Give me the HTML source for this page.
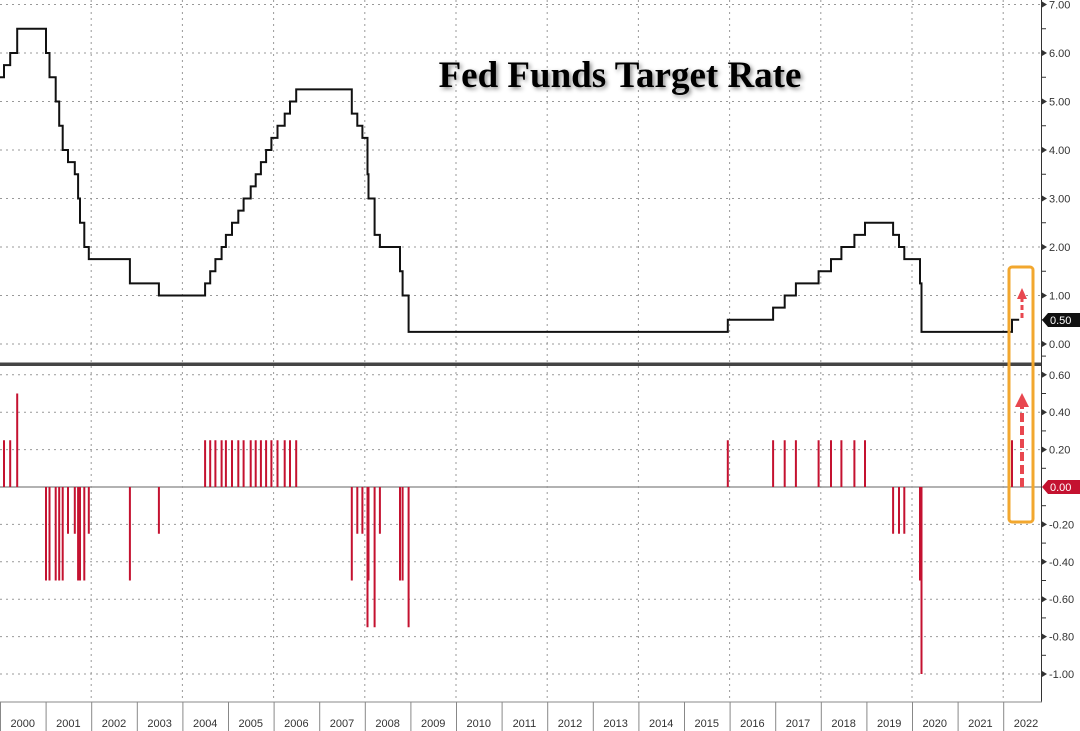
<!DOCTYPE html>
<html><head><meta charset="utf-8"><style>
html,body{margin:0;padding:0;background:#fff;}
svg{display:block;font-family:"Liberation Sans",sans-serif;}
</style></head><body>
<svg id="c" width="1080" height="731" viewBox="0 0 1080 731" xmlns="http://www.w3.org/2000/svg">
<rect width="1080" height="731" fill="#fff"/>
<g id="grid"></g>
<g id="bars"></g>
<path id="line" fill="none" stroke="#111" stroke-width="2"/>
<rect x="0" y="362.5" width="1042" height="3.5" fill="#444"/>
<line x1="1041.5" y1="0" x2="1041.5" y2="702" stroke="#333" stroke-width="1"/>
<line x1="0" y1="702" x2="1042" y2="702" stroke="#888" stroke-width="1"/>
<g id="axis" font-size="11" fill="#333"></g>
<text x="620" y="87" text-anchor="middle" font-family="'Liberation Serif',serif" font-weight="bold" font-size="37" fill="#000" style="filter:drop-shadow(2px 2px 2px rgba(0,0,0,0.45))">Fed Funds Target Rate</text>
<rect x="1009" y="267" width="24" height="255" rx="3" fill="none" stroke="#f2a72e" stroke-width="3"/>
<line x1="1022" y1="318" x2="1022" y2="298" stroke="#e8474f" stroke-width="3" stroke-dasharray="5,3"/>
<polygon points="1017,299 1027,299 1022,288" fill="#e8474f"/>
<line x1="1022" y1="487" x2="1022" y2="405" stroke="#e8474f" stroke-width="4" stroke-dasharray="9,4"/>
<polygon points="1015,407 1029,407 1022,393" fill="#e8474f"/>
</svg>
<script>
var NS="http://www.w3.org/2000/svg";
function el(p,t,a,txt){var e=document.createElementNS(NS,t);for(var k in a)e.setAttribute(k,a[k]);if(txt!==undefined)e.textContent=txt;document.getElementById(p).appendChild(e);return e;}
var S=45.6;function X(t){return (t-2000)*S;}
function Y1(v){return 344-48.5*v;}function Y2(v){return 487-187*v;}
for(var v=0;v<=7;v++)el("grid","line",{x1:0,x2:1041,y1:Y1(v),y2:Y1(v),stroke:"#999","stroke-dasharray":"2,4","stroke-width":1});
for(var i=-5;i<=3;i++){var v=i*0.2;if(Math.abs(v)<1e-9){el("grid","line",{x1:0,x2:1041,y1:487,y2:487,stroke:"#666","stroke-width":1});}else el("grid","line",{x1:0,x2:1041,y1:Y2(v),y2:Y2(v),stroke:"#999","stroke-dasharray":"2,4","stroke-width":1});}
for(var y=2002;y<=2022;y+=2)el("grid","line",{x1:X(y),x2:X(y),y1:0,y2:702,stroke:"#999","stroke-dasharray":"2,4","stroke-width":1});
function d(s){var p=s.split("-");return +p[0]+((+p[1]-1)*30.4+(+p[2]))/365;}
var ch=[["2000-02-02",5.75],["2000-03-21",6],["2000-05-16",6.5],["2001-01-03",6],["2001-01-31",5.5],["2001-03-20",5],["2001-04-18",4.5],["2001-05-15",4],["2001-06-27",3.75],["2001-08-21",3.5],["2001-09-17",3],["2001-10-02",2.5],["2001-11-06",2],["2001-12-11",1.75],["2002-11-06",1.25],["2003-06-25",1],["2004-06-30",1.25],["2004-08-10",1.5],["2004-09-21",1.75],["2004-11-10",2],["2004-12-14",2.25],["2005-02-02",2.5],["2005-03-22",2.75],["2005-05-03",3],["2005-06-30",3.25],["2005-08-09",3.5],["2005-09-20",3.75],["2005-11-01",4],["2005-12-13",4.25],["2006-01-31",4.5],["2006-03-28",4.75],["2006-05-10",5],["2006-06-29",5.25],["2007-09-18",4.75],["2007-10-31",4.5],["2007-12-11",4.25],["2008-01-22",3.5],["2008-01-30",3],["2008-03-18",2.25],["2008-04-30",2],["2008-10-08",1.5],["2008-10-29",1],["2008-12-16",0.25],["2015-12-16",0.5],["2016-12-14",0.75],["2017-03-15",1],["2017-06-14",1.25],["2017-12-13",1.5],["2018-03-21",1.75],["2018-06-13",2],["2018-09-26",2.25],["2018-12-19",2.5],["2019-07-31",2.25],["2019-09-18",2],["2019-10-30",1.75],["2020-03-03",1.25],["2020-03-15",0.25],["2022-03-10",0.5]];
var prev=5.5,path="M0,"+Y1(prev);
ch.forEach(function(c){var x=X(d(c[0]));path+=" H"+x.toFixed(1)+" V"+Y1(c[1]).toFixed(1);
 var diff=c[1]-prev;el("bars","rect",{x:(x-1).toFixed(1),width:2,y:diff>0?Y2(diff):487,height:Math.abs(diff)*187,fill:"#c41230"});prev=c[1];});
path+=" H"+X(2022.35);
document.getElementById("line").setAttribute("d",path);
function lab(y,t){el("axis","polygon",{points:(1042)+","+(y-3)+" 1047,"+y+" 1042,"+(y+3),fill:"#333"});el("axis","text",{x:1049,y:y+4},t);}
for(var v=0;v<=7;v++){lab(Y1(v),v.toFixed(2));el("axis","line",{x1:1042,x2:1046,y1:Y1(v+0.5),y2:Y1(v+0.5),stroke:"#333"});}
for(var i=-5;i<=3;i++){var v=i*0.2;if(i!==0)lab(Y2(v),(v<0?"-":"")+Math.abs(v).toFixed(2));el("axis","line",{x1:1042,x2:1046,y1:Y2(v+0.1),y2:Y2(v+0.1),stroke:"#333"});}
el("axis","polygon",{points:"1042,320 1048,313 1080,313 1080,327 1048,327",fill:"#111"});
el("axis","text",{x:1050,y:324,fill:"#fff"},"0.50");
el("axis","polygon",{points:"1042,487 1048,480 1080,480 1080,494 1048,494",fill:"#c41230"});
el("axis","text",{x:1050,y:491,fill:"#fff"},"0.00");
for(var y=2000;y<=2022;y++){el("axis","line",{x1:X(y)+0.5,x2:X(y)+0.5,y1:702,y2:731,stroke:"#888"});el("axis","text",{x:X(y)+S/2,y:727,"text-anchor":"middle"},""+y);}
</script>
</body></html>
